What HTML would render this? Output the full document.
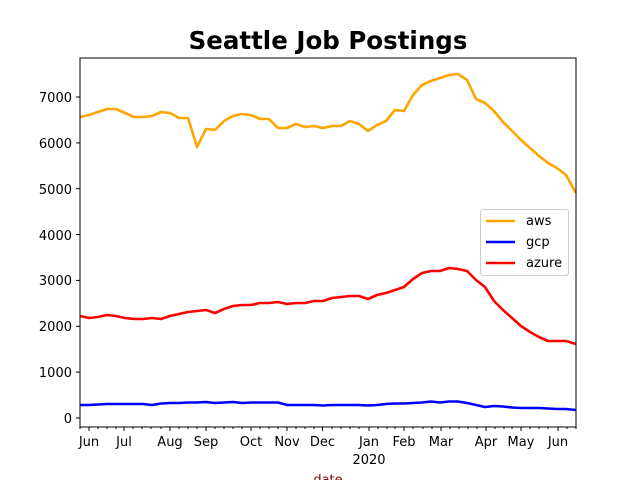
<!DOCTYPE html>
<html><head><meta charset="utf-8"><style>body{margin:0;background:#fff}svg{display:block}text{font-family:"DejaVu Sans","Liberation Sans",sans-serif}</style></head><body>
<svg width="640" height="480" viewBox="0 0 640 480" xmlns="http://www.w3.org/2000/svg">
<rect width="640" height="480" fill="#fff"/>
<text x="328" y="49" text-anchor="middle" font-size="24.5" font-weight="bold">Seattle Job Postings</text>
<g fill="none" stroke-width="2.6" stroke-linejoin="round">
<polyline stroke="#ffa500" points="80,117 89,115 98,112 107,109 116,109 125,113 134,117 143,117 152,116 161,112 170,113 179,118 188,118 197,147 206,129 215,130 224,121 233,116 242,114 251,115 260,119 269,119 278,128 287,128 296,124 305,127 314,126 323,128 332,126 341,126 350,121 359,124 368,131 377,125 386,121 395,110 404,111 413,95 422,85 431,81 440,78 449,75 458,74 467,80 476,99 485,103 494,111 503,122 512,131 521,140 530,148 539,156 548,163 557,168 566,175 576,193"/>
<polyline stroke="#0000ff" points="80,405 89,405 98,404.5 107,404 116,404 125,404 134,404 143,404 152,405 161,403.5 170,403 179,403 188,402.5 197,402.5 206,402 215,403 224,402.5 233,402 242,403 251,402.5 260,402.5 269,402.5 278,402.5 287,405 296,405 305,405 314,405 323,405.5 332,405 341,405 350,405 359,405 368,405.5 377,405 386,404 395,403.5 404,403.5 413,403 422,402.5 431,401.5 440,402.5 449,401.5 458,401.5 467,403 476,405 485,407 494,406 503,406.5 512,407.5 521,408 530,408 539,408 548,408.5 557,409 566,409 576,410"/>
<polyline stroke="#ff0000" points="80,316 89,318 98,317 107,315 116,316 125,318 134,319 143,319 152,318 161,319 170,316 179,314 188,312 197,311 206,310 215,313 224,309 233,306 242,305 251,305 260,303 269,303 278,302 287,304 296,303 305,303 314,301 323,301 332,298 341,297 350,296 359,296 368,299 377,295 386,293 395,290 404,287 413,279 422,273 431,271 440,271 449,268 458,269 467,271 476,280 485,287 494,301 503,310 512,318 521,326 530,332 539,337 548,341 557,341 566,341 576,344"/>
</g>
<rect x="80" y="58" width="496" height="369" fill="none" stroke="#000" stroke-width="1"/>
<g stroke="#000" stroke-width="1">
<line x1="76" y1="418" x2="80" y2="418"/><line x1="76" y1="372.1" x2="80" y2="372.1"/><line x1="76" y1="326.3" x2="80" y2="326.3"/><line x1="76" y1="280.4" x2="80" y2="280.4"/><line x1="76" y1="234.6" x2="80" y2="234.6"/><line x1="76" y1="188.7" x2="80" y2="188.7"/><line x1="76" y1="142.9" x2="80" y2="142.9"/><line x1="76" y1="97" x2="80" y2="97"/>
<path d="M89,427v4M124,427v4M170,427v4M206,427v4M251,427v4M287,427v4M322.5,427v4M369,427v4M404,427v4M441,427v4M486,427v4M521,427v4M558,427v4"/>
<path d="M80,427v2M98,427v2M107,427v2M116,427v2M133,427v2M142,427v2M151,427v2M161,427v2M179,427v2M188,427v2M197,427v2M215,427v2M224,427v2M233,427v2M242,427v2M260,427v2M269,427v2M278,427v2M296,427v2M305,427v2M314,427v2M332,427v2M341,427v2M350,427v2M359,427v2M378,427v2M387,427v2M395,427v2M413,427v2M423,427v2M432,427v2M450,427v2M459,427v2M468,427v2M477,427v2M495,427v2M504,427v2M512,427v2M530,427v2M539,427v2M548,427v2M567,427v2M576,427v2"/>
</g>
<g font-size="13" text-anchor="end">
<text x="72" y="423">0</text><text x="72" y="377">1000</text><text x="72" y="331">2000</text><text x="72" y="285">3000</text><text x="72" y="240">4000</text><text x="72" y="194">5000</text><text x="72" y="148">6000</text><text x="72" y="102">7000</text>
</g>
<g font-size="13" text-anchor="middle">
<text x="89" y="446">Jun</text><text x="124" y="446">Jul</text><text x="170" y="446">Aug</text><text x="206" y="446">Sep</text><text x="251" y="446">Oct</text><text x="287" y="446">Nov</text><text x="322.5" y="446">Dec</text><text x="369" y="446">Jan</text><text x="404" y="446">Feb</text><text x="441" y="446">Mar</text><text x="486" y="446">Apr</text><text x="521" y="446">May</text><text x="558" y="446">Jun</text>
<text x="369" y="464">2020</text>
<text x="328" y="484" fill="#8b0000">date</text>
</g>
<rect x="480.5" y="209.5" width="88" height="66" rx="3" fill="#fff" fill-opacity="0.8" stroke="#ccc"/>
<g stroke-width="2.6"><line x1="486" y1="221" x2="515" y2="221" stroke="#ffa500"/><line x1="486" y1="242" x2="515" y2="242" stroke="#0000ff"/><line x1="486" y1="263" x2="515" y2="263" stroke="#ff0000"/></g>
<g font-size="13"><text x="526" y="225">aws</text><text x="526" y="246">gcp</text><text x="526" y="267">azure</text></g>
</svg>
</body></html>
